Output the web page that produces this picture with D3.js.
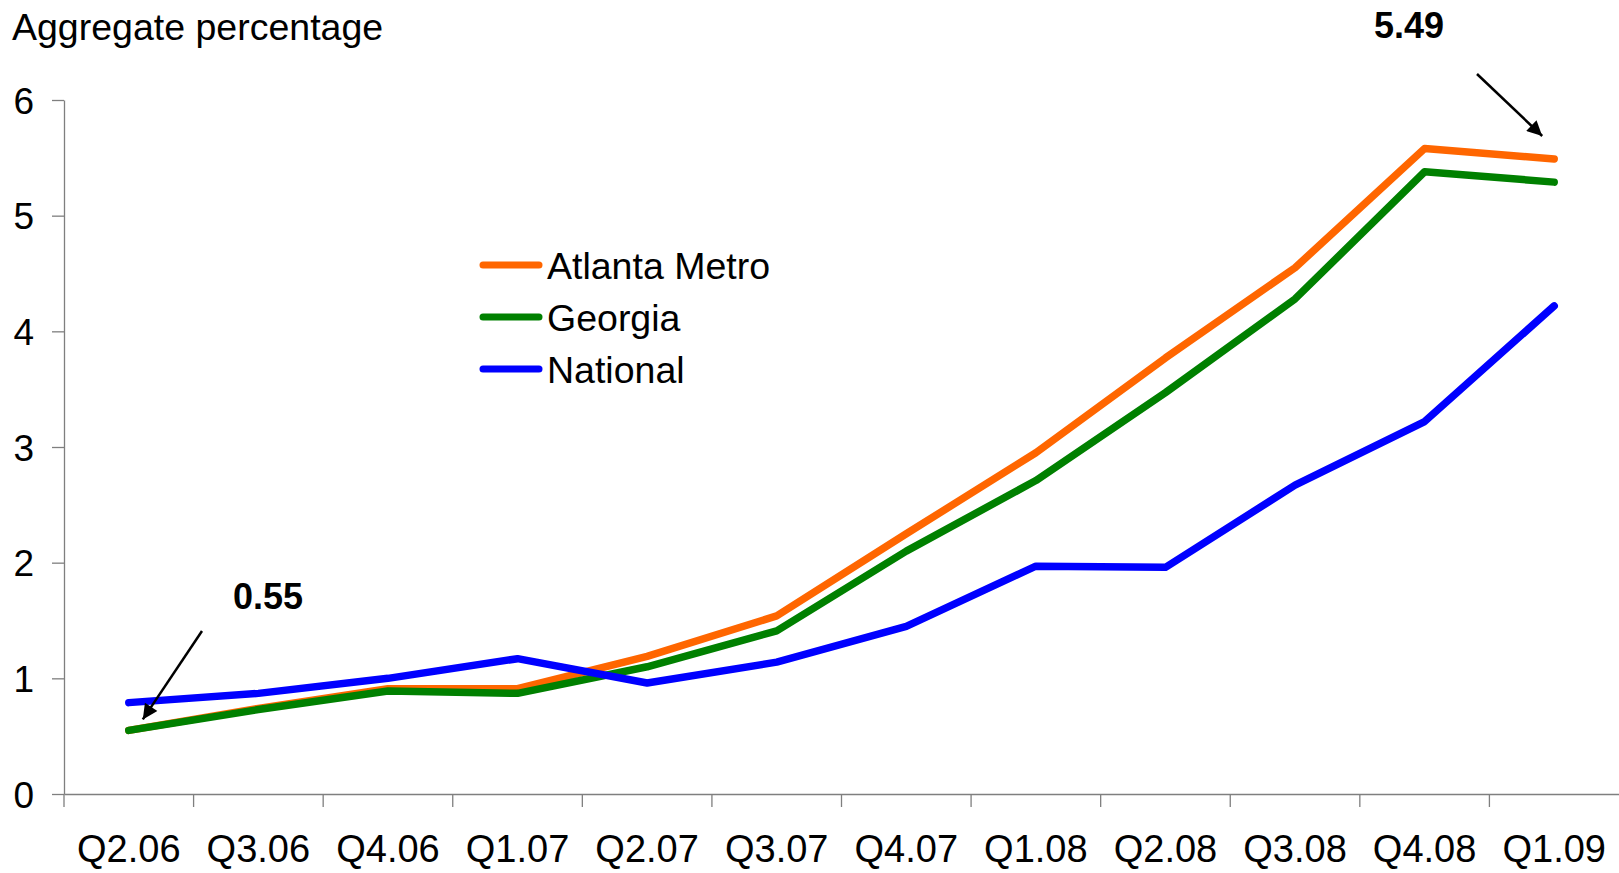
<!DOCTYPE html>
<html>
<head>
<meta charset="utf-8">
<script src="https://cdnjs.cloudflare.com/ajax/libs/d3/7.8.5/d3.min.js"></script>
<style>
  html, body { margin: 0; padding: 0; background: #fff; }
  svg { display: block; font-family: "Liberation Sans", Arial, sans-serif; }
</style>
</head>
<body>
<svg id="chart" width="1619" height="873"></svg>
<script>
// Quarterly aggregate percentages
const quarters = ["Q2.06","Q3.06","Q4.06","Q1.07","Q2.07","Q3.07","Q4.07","Q1.08","Q2.08","Q3.08","Q4.08","Q1.09"];
const atlantaMetro = [0.55, 0.74, 0.91, 0.91, 1.19, 1.54, 2.25, 2.95, 3.77, 4.55, 5.58, 5.49];
const georgia      = [0.55, 0.73, 0.89, 0.87, 1.10, 1.41, 2.10, 2.71, 3.47, 4.28, 5.38, 5.29];
const national     = [0.79, 0.87, 1.00, 1.17, 0.96, 1.14, 1.45, 1.97, 1.96, 2.67, 3.22, 4.22];
const yTicks = [0, 1, 2, 3, 4, 5, 6];
const seriesNames = ["Atlanta Metro", "Georgia", "National"];
const seriesColors = ["#FF6600", "#008000", "#0000FF"];

const series = [
  { name: seriesNames[0], color: seriesColors[0], values: atlantaMetro },
  { name: seriesNames[1], color: seriesColors[1], values: georgia },
  { name: seriesNames[2], color: seriesColors[2], values: national }
];

(function draw() {
  const svg = d3.select("#chart");
  const plotLeft = 64, plotRight = 1619, plotTop = 100, plotBottom = 794;

  const x = d3.scaleBand().domain(quarters).range([plotLeft, plotRight]);
  const y = d3.scaleLinear().domain([0, 6]).range([plotBottom, plotTop]);
  const cx = q => x(q) + x.bandwidth() / 2;

  const axisColor = "#7f7f7f";
  const font = "'Liberation Sans', Arial, sans-serif";

  // Y axis
  const yAxis = svg.append("g")
    .attr("transform", `translate(${plotLeft},0)`)
    .call(d3.axisLeft(y).tickValues(yTicks).tickSize(12).tickSizeOuter(0).tickPadding(18).tickFormat(d3.format("d")));
  yAxis.select(".domain").attr("stroke", axisColor).attr("stroke-width", 1.3);
  yAxis.selectAll(".tick line").attr("stroke", axisColor).attr("stroke-width", 1.3);
  yAxis.selectAll(".tick text").attr("font-size", 37).attr("fill", "#000")
    .attr("font-family", font).attr("dy", "0.36em");

  // X axis: labels centred in each band, tick marks at band boundaries
  const xAxis = svg.append("g")
    .attr("transform", `translate(0,${plotBottom})`)
    .call(d3.axisBottom(x).tickSize(0).tickSizeOuter(0).tickPadding(41));
  xAxis.select(".domain").attr("stroke", axisColor).attr("stroke-width", 1.3);
  xAxis.selectAll(".tick text").attr("font-size", 38).attr("fill", "#000")
    .attr("font-family", font);
  xAxis.selectAll("line.boundary")
    .data(quarters)
    .enter().append("line")
    .attr("class", "boundary")
    .attr("x1", d => x(d)).attr("x2", d => x(d))
    .attr("y1", 0).attr("y2", 13)
    .attr("stroke", axisColor).attr("stroke-width", 1.3);

  // Axis title
  svg.append("text")
    .attr("x", 12).attr("y", 40)
    .attr("font-size", 37.5)
    .attr("fill", "#000")
    .text("Aggregate percentage");

  // Series lines, in series order
  const line = d3.line()
    .x((d, i) => cx(quarters[i]))
    .y(d => y(d));

  svg.append("g").selectAll("path")
    .data(series)
    .enter().append("path")
    .attr("d", d => line(d.values))
    .attr("fill", "none")
    .attr("stroke", d => d.color)
    .attr("stroke-width", 7.5)
    .attr("stroke-linejoin", "round")
    .attr("stroke-linecap", "round");

  // Legend
  const legend = svg.append("g").attr("transform", "translate(483,265)");
  series.forEach((s, i) => {
    const g = legend.append("g").attr("transform", `translate(0,${i * 52})`);
    g.append("line")
      .attr("x1", 0).attr("x2", 56).attr("y1", 0).attr("y2", 0)
      .attr("stroke", s.color).attr("stroke-width", 7).attr("stroke-linecap", "round");
    g.append("text")
      .attr("x", 64).attr("y", 14)
      .attr("font-size", 37.5).attr("fill", "#000")
      .text(s.name);
  });

  // Arrow marker
  svg.append("defs").append("marker")
    .attr("id", "arrowhead")
    .attr("viewBox", "0 0 10 10")
    .attr("refX", 10).attr("refY", 5)
    .attr("markerWidth", 7).attr("markerHeight", 6)
    .attr("markerUnits", "strokeWidth")
    .attr("orient", "auto")
    .append("path")
    .attr("d", "M0,0 L10,5 L0,10 z")
    .attr("fill", "#000");

  // Callouts for the first and last Atlanta Metro values
  const firstVal = atlantaMetro[0];
  const lastVal = atlantaMetro[atlantaMetro.length - 1];

  svg.append("text")
    .attr("x", 268).attr("y", 609)
    .attr("text-anchor", "middle")
    .attr("font-size", 36).attr("font-weight", "bold").attr("fill", "#000")
    .text(d3.format(".2f")(firstVal));
  svg.append("line")
    .attr("x1", 202).attr("y1", 631)
    .attr("x2", cx(quarters[0]) + 14).attr("y2", y(firstVal) - 11)
    .attr("stroke", "#000").attr("stroke-width", 2.5)
    .attr("marker-end", "url(#arrowhead)");

  svg.append("text")
    .attr("x", 1409).attr("y", 38)
    .attr("text-anchor", "middle")
    .attr("font-size", 36).attr("font-weight", "bold").attr("fill", "#000")
    .text(d3.format(".2f")(lastVal));
  svg.append("line")
    .attr("x1", 1477).attr("y1", 74)
    .attr("x2", cx(quarters[quarters.length - 1]) - 12).attr("y2", y(lastVal) - 23)
    .attr("stroke", "#000").attr("stroke-width", 2.5)
    .attr("marker-end", "url(#arrowhead)");
})();
</script>
</body>
</html>
